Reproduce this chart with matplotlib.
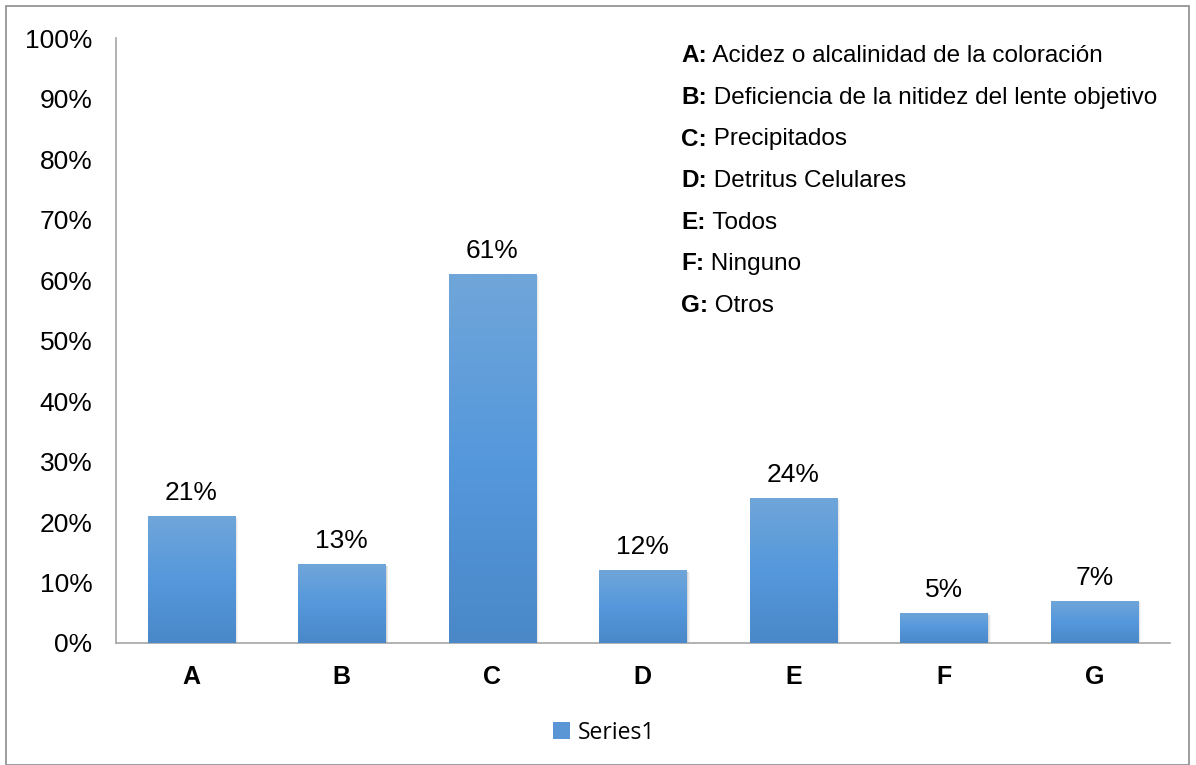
import numpy as np
import matplotlib.pyplot as plt
from matplotlib.patches import Rectangle
from matplotlib.colors import LinearSegmentedColormap

plt.rcParams['font.family'] = ['Liberation Sans', 'DejaVu Sans']

categories = ['A', 'B', 'C', 'D', 'E', 'F', 'G']
values = [21, 13, 61, 12, 24, 5, 7]
labels = ['21%', '13%', '61%', '12%', '24%', '5%', '7%']
notes_bold = ['A:', 'B:', 'C:', 'D:', 'E:', 'F:', 'G:']
notes_text = ['Acidez o alcalinidad de la coloración',
              'Deficiencia de la nitidez del lente objetivo',
              'Precipitados',
              'Detritus Celulares',
              'Todos',
              'Ninguno',
              'Otros']
series_name = 'Series1'

fig = plt.figure(figsize=(11.96, 7.65), dpi=100)
ax = fig.add_axes([0.097, 0.1595, 0.881, 0.7905])

# figure border
fig.patches.append(Rectangle((6/1196, 0), 1183/1196, 759/765, transform=fig.transFigure,
                             fill=False, edgecolor='#8c8c8c', lw=1.2))

x = np.arange(len(categories))
width = 0.58
cmap = LinearSegmentedColormap.from_list('bar', ['#4a88c8', '#5598dc', '#70a6d9'])
grad = np.linspace(0, 1, 256).reshape(-1, 1)

bars = ax.bar(x, values, width=width, color='none', edgecolor='none', zorder=3)
for b, lab in zip(bars, labels):
    x0, h = b.get_x(), b.get_height()
    # soft shadow
    for i, a in enumerate([0.07, 0.05, 0.04]):
        ax.add_patch(Rectangle((x0 + 0.008 + i * 0.006, -0.3), width, h, facecolor='black',
                               alpha=a, edgecolor='none', zorder=2))
    im = ax.imshow(grad, cmap=cmap, aspect='auto', extent=[x0, x0 + width, 0, h],
                   origin='lower', zorder=3)
    im.set_clip_path(b)
    ax.annotate(lab, (x0 + width / 2, h), xytext=(0, 8), textcoords='offset points',
                ha='center', va='bottom', fontsize=19)

ax.set_xlim(-0.5, len(categories) - 0.5)
ax.set_ylim(0, 100)
ax.set_yticks(np.arange(0, 101, 10))
ax.set_yticklabels([f'{v}%' for v in range(0, 101, 10)], fontsize=19)
ax.set_xticks(x)
ax.set_xticklabels(categories, fontsize=18, fontweight='bold')
ax.tick_params(axis='y', length=0, pad=17)
ax.tick_params(axis='x', length=0, pad=16)
for s in ['top', 'right']:
    ax.spines[s].set_visible(False)
for s in ['left', 'bottom']:
    ax.spines[s].set_color('#a6a6a6')
    ax.spines[s].set_linewidth(1.2)

# explanatory notes
for i, (nb, nt) in enumerate(zip(notes_bold, notes_text)):
    y = 1 - (56 + i * 41.5) / 765
    t = fig.text(681 / 1196, y, nb, fontsize=17.5, fontweight='bold', va='center', ha='left')
    ax.annotate(' ' + nt, xy=(1, 0), xycoords=t, va='bottom', ha='left', fontsize=17.5)

h = Rectangle((0, 0), 1, 1, facecolor='#5a96d6', edgecolor='none')
fig.legend([h], [series_name], loc='center', bbox_to_anchor=(0.505, 0.042), frameon=False,
           prop={'family': 'Open Sans', 'size': 16.5}, handlelength=0.75, handleheight=0.75,
           handletextpad=0.3)

fig.savefig('out.png', dpi=100)
